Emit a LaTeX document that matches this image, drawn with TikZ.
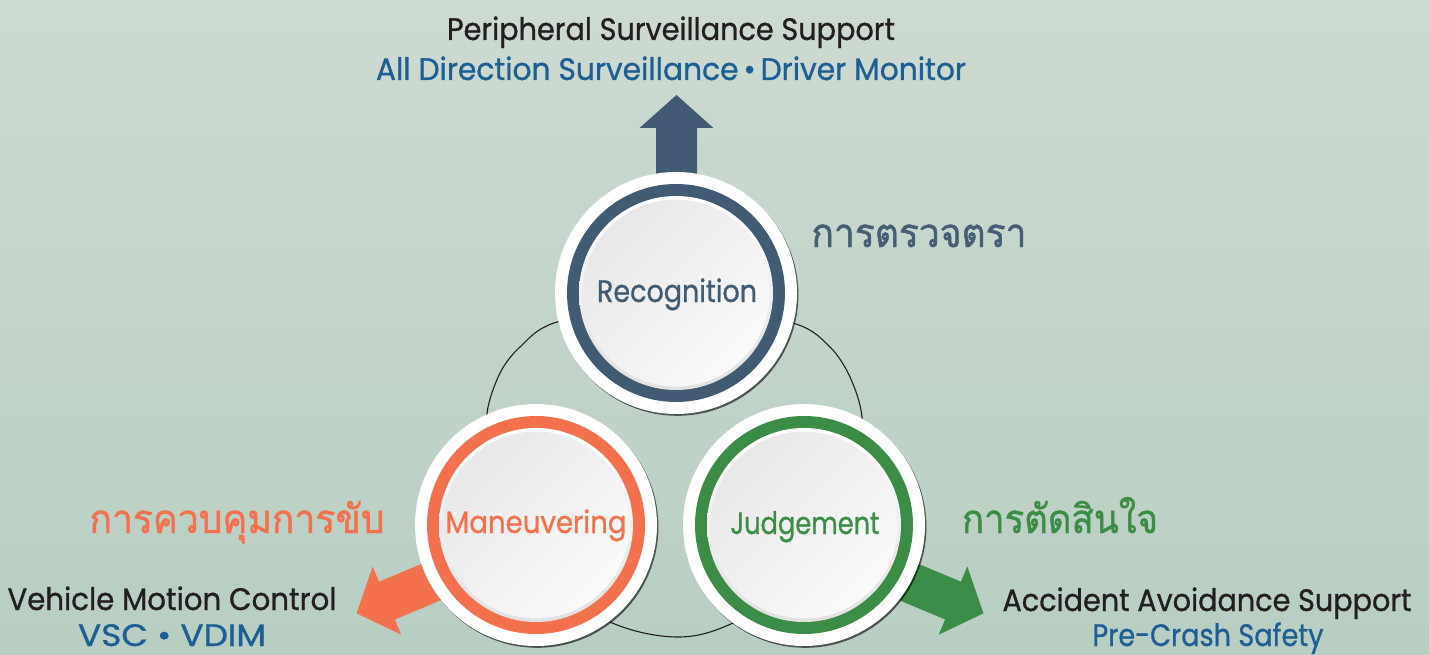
\documentclass[tikz,border=0pt]{standalone}
\usepackage{fontspec}
\usepackage{graphicx}
\setmainfont{Poppins}[FakeBold=0.9]
\newfontfamily\thaifont[Script=Thai,FakeBold=1.2]{Loma}
\usetikzlibrary{shadows}

\definecolor{bgtop}{RGB}{205,218,209}
\definecolor{bgbot}{RGB}{184,206,194}
\definecolor{slate}{HTML}{415B72}
\definecolor{coral}{HTML}{F3714D}
\definecolor{leaf}{HTML}{3B8D45}
\definecolor{inkblue}{HTML}{1D5F95}
\definecolor{ink}{HTML}{231F20}
\definecolor{thaislate}{HTML}{455E74}

% set a text to a given width, keeping its natural height
\newcommand\fitto[2]{\resizebox{#1}{\height}{#2}}

\tikzset{
  stagedisc/.style={circle, minimum size=242pt, inner sep=0pt, fill=white,
    drop shadow={shadow xshift=1.4pt, shadow yshift=-1.8pt, opacity=.6, fill=black},
    path picture={
      \fill[#1] (path picture bounding box.center) circle (109pt);
      \shade[top color=white, bottom color=black!12] (path picture bounding box.center) circle (97pt);
      \shade[top color=black!9, bottom color=black!2, shading angle=45] (path picture bounding box.center) circle (93.5pt);
    }},
  heading/.style={anchor=base, inner sep=0pt, font=\fontsize{31}{31}\selectfont, text=ink},
  subheading/.style={anchor=base, inner sep=0pt, font=\fontsize{31}{31}\selectfont, text=inkblue},
  stagelabel/.style={anchor=base, inner sep=0pt, font=\fontsize{31}{31}\selectfont},
  thailabel/.style={anchor=base, inner sep=0pt, font=\thaifont\fontsize{40}{40}\selectfont},
  pics/fatarrow/.style={code={
    \fill[pic actions] (0,-20.5) -- (#1,-20.5) -- (#1,-37) -- (#1+33,0) -- (#1,37) -- (#1,20.5) -- (0,20.5) -- cycle;
  }},
}

\begin{document}
\begin{tikzpicture}[x=1pt, y=-1pt]
  \useasboundingbox (0,0) rectangle (1429,655);
  \shade[top color=bgtop, bottom color=bgbot] (0,0) rectangle (1429,655);

  % thin ring linking the three stages
  \draw[line width=1.1pt, black!88] plot[smooth cycle] coordinates {
    (675,300) (793,323) (830,347) (850,377) (862,417) (860,480) (845,560)
    (733,623) (677,637) (610,622) (505,560) (488,470)
    (487,413) (500,373) (520,347) (557,322)};

  % outgoing arrows
  \pic[fill=slate, rotate=90] (uparr) at (676.5,230) {fatarrow=102};
  \pic[fill=coral, rotate=202.75] (leftarr) at (541,536) {fatarrow=167};
  \pic[fill=leaf, rotate=-22.75] (rightarr) at (799,536) {fatarrow=167};

  % stage discs
  \node[stagedisc=slate] (rec) at (676,293) {};
  \node[stagedisc=coral] (man) at (536,525) {};
  \node[stagedisc=leaf] (jud) at (804,525) {};

  \node[stagelabel, text=slate] (reclbl) at (677,302) {\fitto{160pt}{Recognition}};
  \node[stagelabel, text=coral] (manlbl) at (536,533) {\fitto{181pt}{Maneuvering}};
  \node[stagelabel, text=leaf] (judlbl) at (805,534) {\fitto{149pt}{Judgement}};

  % Thai captions
  \node[thailabel, text=thaislate] (recthai) at (919,247) {\fitto{215pt}{การตรวจตรา}};
  \node[thailabel, text=coral] (manthai) at (237,533) {\fitto{295pt}{การควบคุมการขับ}};
  \node[thailabel, text=leaf] (judthai) at (1060,533) {\fitto{196pt}{การตัดสินใจ}};

  % outcome captions
  \node[heading] (toph) at (671,40) {\fitto{448pt}{Peripheral Surveillance Support}};
  \node[subheading] (tops) at (671,80) {\fitto{590pt}{All Direction Surveillance\,•\,Driver Monitor}};
  \node[heading] (lefth) at (172,610) {\fitto{329pt}{Vehicle Motion Control}};
  \node[subheading] (lefts) at (172,646) {\fitto{188pt}{VSC • VDIM}};
  \node[heading] (righth) at (1207,611) {\fitto{409pt}{Accident Avoidance Support}};
  \node[subheading] (rights) at (1208,646) {\fitto{231pt}{Pre-Crash Safety}};
\end{tikzpicture}
\end{document}
